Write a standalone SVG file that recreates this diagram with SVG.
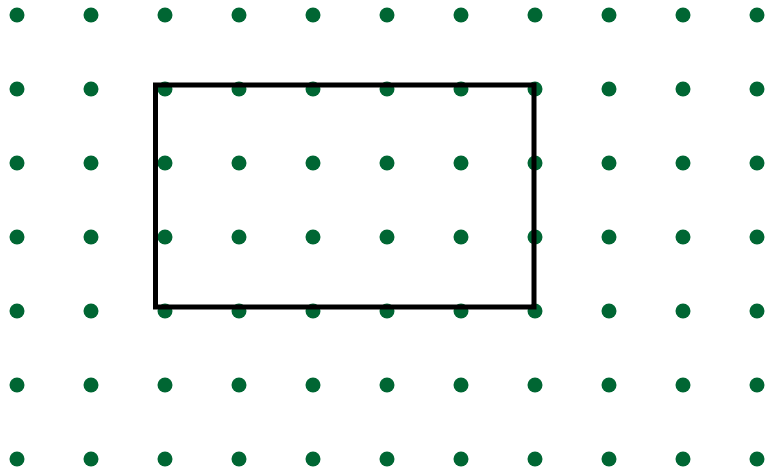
<svg xmlns="http://www.w3.org/2000/svg" width="766" height="475" viewBox="0 0 766 475">
<defs>
<style>
.dot{fill:#006633}
.frame{fill:none;stroke:#000;stroke-width:5}
</style>
<pattern id="grid" x="-20" y="-22" width="74" height="74" patternUnits="userSpaceOnUse">
<circle class="dot" cx="37" cy="37" r="7.5"/>
</pattern>
</defs>
<rect id="dots" x="0" y="0" width="766" height="475" fill="url(#grid)"/>
<g id="rectangle">
<rect class="frame" x="155.5" y="85" width="378.5" height="222"/>
</g>
</svg>
